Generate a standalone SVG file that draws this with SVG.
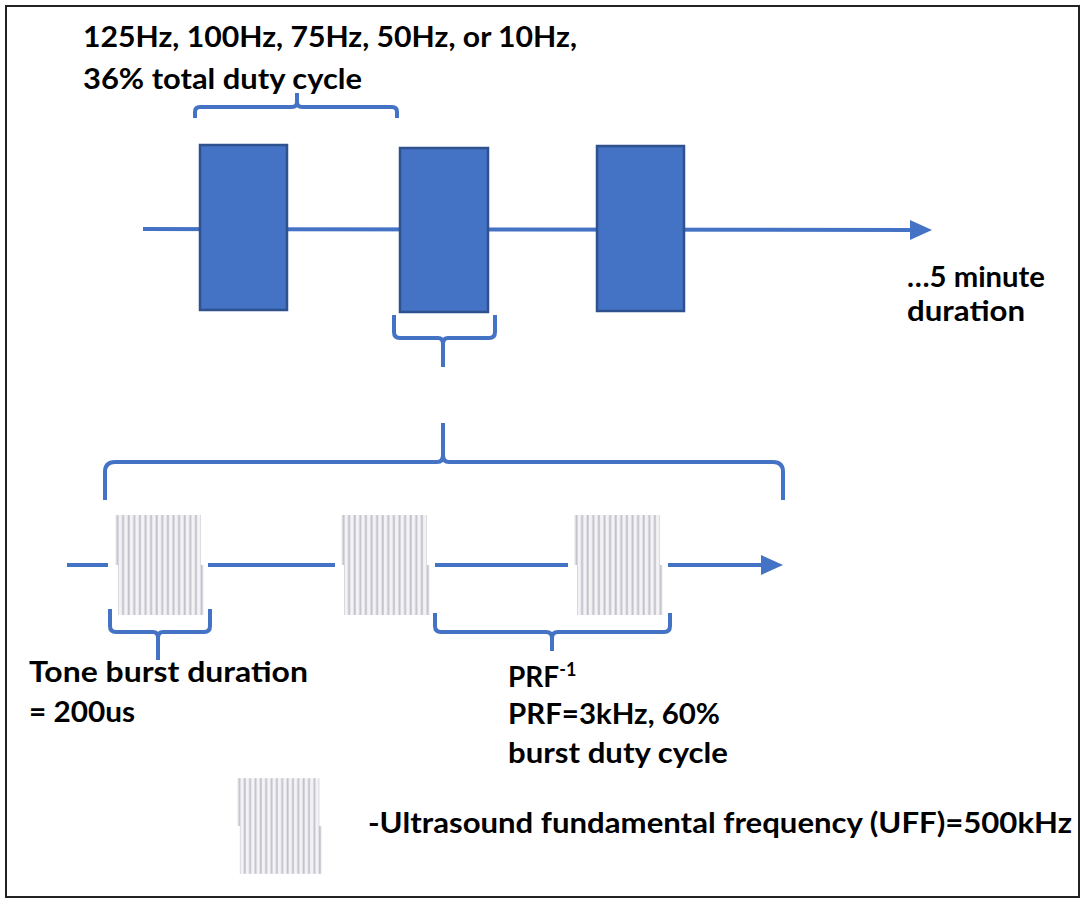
<svg xmlns="http://www.w3.org/2000/svg" width="1082" height="901" viewBox="0 0 1082 901">
<style>
.t{font-family:Lato,"Open Sans","Liberation Sans",sans-serif;font-weight:bold;font-size:28px;fill:#000}
.ln{stroke:#4472C4;stroke-width:4;fill:none}
.br{stroke:#4472C4;stroke-width:4;fill:none;stroke-linecap:butt;stroke-linejoin:round}
.box{fill:#4472C4;stroke:#2F528F;stroke-width:2.5}
</style>
<defs>
<marker id="ah" markerUnits="userSpaceOnUse" markerWidth="22" markerHeight="20" refX="2" refY="10" orient="auto">
<path d="M0,0 L22,10 L0,20 Z" fill="#4472C4"/>
</marker>
<pattern id="wv" patternUnits="userSpaceOnUse" width="5.6" height="100">
<rect width="5.6" height="100" fill="#f3f3f6"/>
<rect x="1.5" width="2" height="100" fill="#c2c2cb"/>
</pattern>
<symbol id="burst" viewBox="0 0 92 100" width="92" height="100" overflow="visible">
<rect x="0" y="0" width="86" height="50" fill="url(#wv)"/>
<rect x="3" y="50" width="86" height="50" fill="url(#wv)"/>
</symbol>
</defs>
<rect x="6" y="6" width="1073" height="891" fill="#fff" stroke="#222" stroke-width="2"/>
<g id="connectors">
<line class="ln" x1="143" y1="229" x2="912" y2="230" marker-end="url(#ah)"/>
<line class="ln" x1="67" y1="565" x2="108" y2="565"/>
<line class="ln" x1="208" y1="565" x2="335" y2="565"/>
<line class="ln" x1="435" y1="565" x2="568" y2="565"/>
<line class="ln" x1="668" y1="565" x2="763" y2="565" marker-end="url(#ah)"/>
<path class="br" d="M195,118 L195,112 Q195,107 200,107 L292,107 Q297,107 297,102 L297,93 M297,102 Q297,107 302,107 L392,107 Q397,107 397,112 L397,118"/>
<path class="br" d="M394,315 L394,332 Q394,338 400,338 L438,338 Q443,338 443,344 L443,367 M443,344 Q443,338 448,338 L489,338 Q495,338 495,332 L495,315"/>
<path class="br" d="M105,500 L105,472 Q105,462 115,462 L437,462 Q443,462 443,455 L443,423 M443,455 Q443,462 449,462 L773,462 Q783,462 783,472 L783,500"/>
<path class="br" d="M110,609 L110,626 Q110,632 116,632 L153,632 Q158,632 158,638 L158,660 M158,638 Q158,632 163,632 L204,632 Q210,632 210,626 L210,609"/>
<path class="br" d="M435,613 L435,626 Q435,632 441,632 L546,632 Q552,632 552,638 L552,651 M552,638 Q552,632 558,632 L664,632 Q670,632 670,626 L670,613"/>
</g>
<g id="box1"><rect class="box" x="200" y="145" width="87" height="165"/></g>
<g id="box2"><rect class="box" x="400" y="148" width="88" height="164"/></g>
<g id="box3"><rect class="box" x="597" y="146" width="87" height="165"/></g>
<g id="burst1"><use href="#burst" x="115" y="515"/></g>
<g id="burst2"><use href="#burst" x="341" y="515"/></g>
<g id="burst3"><use href="#burst" x="574" y="515"/></g>
<g id="burst-legend"><use href="#burst" x="237" y="777" width="88" height="98"/></g>
<g id="label-freq">
<text class="t" x="83" y="47" textLength="494" lengthAdjust="spacingAndGlyphs">125Hz, 100Hz, 75Hz, 50Hz, or 10Hz,</text>
<text class="t" x="83" y="89" textLength="279" lengthAdjust="spacingAndGlyphs">36% total duty cycle</text>
</g>
<g id="label-duration">
<text class="t" x="907" y="287" textLength="138" lengthAdjust="spacingAndGlyphs">…5 minute</text>
<text class="t" x="907" y="321" textLength="118" lengthAdjust="spacingAndGlyphs">duration</text>
</g>
<g id="label-tone">
<text class="t" x="29" y="682" textLength="279" lengthAdjust="spacingAndGlyphs">Tone burst duration</text>
<text class="t" x="29" y="722" textLength="106" lengthAdjust="spacingAndGlyphs">= 200us</text>
</g>
<g id="label-prf">
<text class="t" x="508" y="687">PRF<tspan font-size="18" dy="-11">-1</tspan></text>
<text class="t" x="508" y="724" textLength="212" lengthAdjust="spacingAndGlyphs">PRF=3kHz, 60%</text>
<text class="t" x="508" y="763" textLength="220" lengthAdjust="spacingAndGlyphs">burst duty cycle</text>
</g>
<g id="label-uff">
<text class="t" x="368" y="833" textLength="704" lengthAdjust="spacingAndGlyphs">-Ultrasound fundamental frequency (UFF)=500kHz</text>
</g>
</svg>
